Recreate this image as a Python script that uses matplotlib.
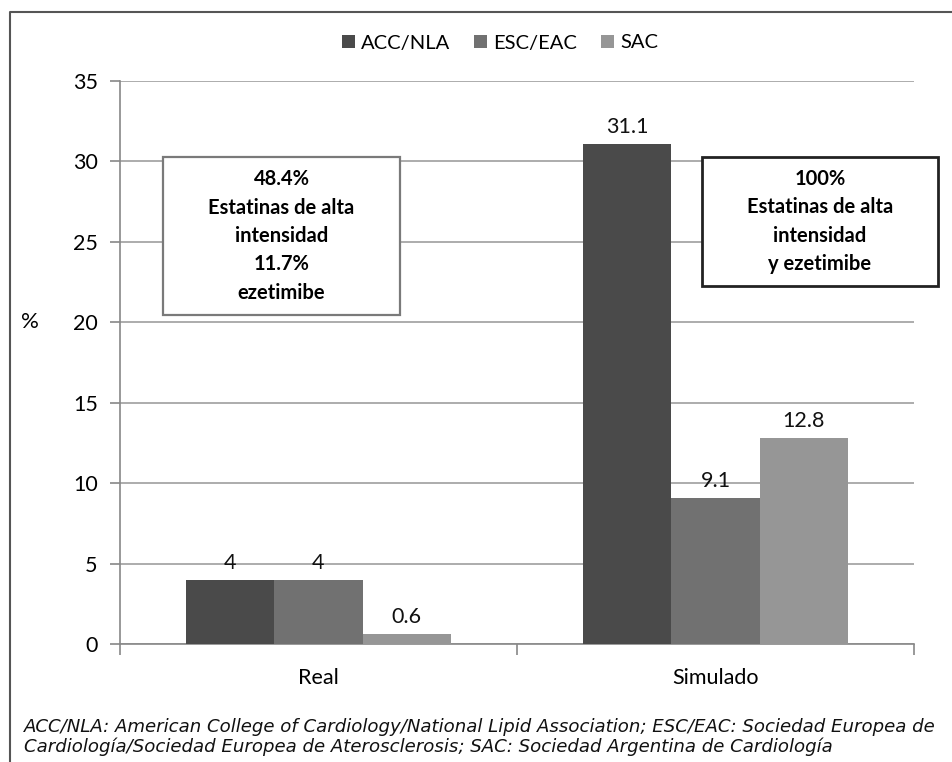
import matplotlib
matplotlib.use("Agg")
import matplotlib.pyplot as plt
from matplotlib.patches import Rectangle
from matplotlib.lines import Line2D
import numpy as np

plt.rcParams['font.family'] = ['Lato', 'DejaVu Sans']

# porcentaje de pacientes en objetivo según cada guía
grupos = ['Real', 'Simulado']
series = ['ACC/NLA', 'ESC/EAC', 'SAC']
acc_nla = [4, 31.1]
esc_eac = [4, 9.1]
sac = [0.6, 12.8]
colores = ['#4a4a4a', '#717171', '#969696']

W, H = 953, 762
fig = plt.figure(figsize=(W / 100, H / 100), dpi=100)
ax = fig.add_axes([120 / W, 1 - 644 / H, 794 / W, 563 / H])

x = np.arange(len(grupos))
ancho = 0.222
for i, (vals, nombre, col) in enumerate(zip([acc_nla, esc_eac, sac], series, colores)):
    pos = x + (i - 1) * ancho
    ax.bar(pos, vals, width=ancho, color=col, label=nombre, zorder=3)
    for px, v in zip(pos, vals):
        ax.annotate(f'{v:g}', (px, v), xytext=(0, 5), textcoords='offset points',
                    ha='center', va='bottom', fontsize=15.5, color='#111111')

ax.set_xlim(-0.5, 1.5)
ax.set_ylim(0, 35)
ax.set_yticks(range(0, 36, 5))
ax.set_xticks(x)
ax.set_xticklabels(grupos)
ax.set_xticks([-0.5, 0.5, 1.5], minor=True)
ax.tick_params(axis='x', which='major', length=0, pad=17, labelsize=15.5)
ax.tick_params(axis='x', which='minor', length=8, width=1.2, color='#888888')
ax.tick_params(axis='y', length=7, width=1.2, color='#888888', pad=9, labelsize=15.5)
ax.grid(axis='y', color='#a6a6a6', linewidth=1.3, zorder=0)
for s in ['top', 'right']:
    ax.spines[s].set_visible(False)
for s in ['left', 'bottom']:
    ax.spines[s].set_color('#888888')
    ax.spines[s].set_linewidth(1.2)
ax.set_ylabel('%', rotation=0, fontsize=16, va='center', ha='center')
ax.yaxis.set_label_coords(-0.113, 0.572)

fig.legend(loc='center', bbox_to_anchor=(500 / W, 1 - 43 / H), ncol=3, frameon=False,
           fontsize=14.5, handlelength=0.65, handleheight=0.65, handletextpad=0.3,
           columnspacing=1.2)

# recuadros de texto sobre el gráfico (coordenadas en píxeles de la figura)
def recuadro(x0, y0, x1, y1, texto, borde, lw):
    fig.patches.append(Rectangle((x0 / W, 1 - y1 / H), (x1 - x0) / W, (y1 - y0) / H,
                                 transform=fig.transFigure, facecolor='white',
                                 edgecolor=borde, linewidth=lw, zorder=5))
    fig.text((x0 + x1) / 2 / W, 1 - (y0 + y1) / 2 / H, texto, ha='center', va='center',
             fontsize=14.5, fontweight='bold', linespacing=1.52, zorder=6)

recuadro(163, 157, 400, 315, '48.4%\nEstatinas de alta\nintensidad\n11.7%\nezetimibe',
         '#7a7a7a', 1.6)
recuadro(702, 157, 938, 286, '100%\nEstatinas de alta\nintensidad\ny ezetimibe',
         '#222222', 2.0)

# marco exterior
fig.lines.append(Line2D([10 / W, 10 / W, 1.0], [0.0, 1 - 12 / H, 1 - 12 / H],
                        transform=fig.transFigure, color='#555555', linewidth=1.5))

nota = ('ACC/NLA: American College of Cardiology/National Lipid Association; ESC/EAC: Sociedad Europea de\n'
        'Cardiología/Sociedad Europea de Aterosclerosis; SAC: Sociedad Argentina de Cardiología')
fig.text(24 / W, 1 - 737 / H, nota, ha='left', va='center', fontsize=13.1, style='italic',
         family='DejaVu Sans', linespacing=1.12, color='#111111')

fig.savefig('out.png', dpi=100)
